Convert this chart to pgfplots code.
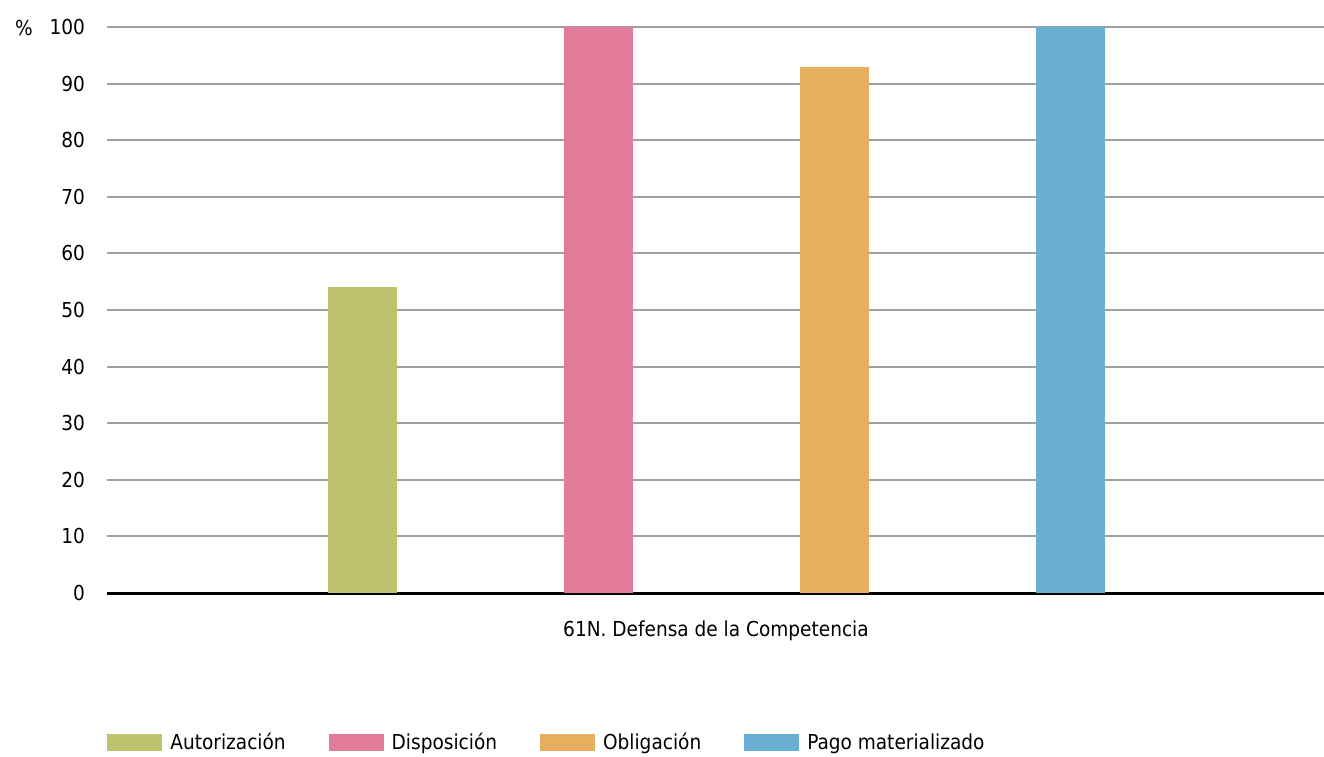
\documentclass[border=0pt]{standalone}
\usepackage{fontspec}
\setmainfont{DejaVu Sans Condensed}
\usepackage{pgfplots}
\pgfplotsset{compat=1.18}
\definecolor{cgreen}{RGB}{190,194,110}
\definecolor{cpink}{RGB}{226,123,154}
\definecolor{corange}{RGB}{232,174,96}
\definecolor{cblue}{RGB}{104,175,209}
\definecolor{cgrid}{RGB}{160,160,160}
\begin{document}
\begin{tikzpicture}
\begin{axis}[
  at={(0,0)}, anchor=south west,
  scale only axis,
  width=608.5pt, height=283pt,
  xmin=107, xmax=1324,
  ymin=0, ymax=100,
  ytick={0,10,...,100},
  xtick={716},
  xticklabels={61N. Defensa de la Competencia},
  xtick style={draw=none},
  ytick style={draw=none},
  axis x line*=bottom,
  axis y line*=left,
  y axis line style={draw=none},
  x axis line style={black, line width=1.5pt, -},
  ymajorgrids,
  grid style={cgrid, line width=1pt},
  tick label style={font=\fontsize{10.3}{12}\selectfont},
  /pgf/number format/assume math mode=true,
  yticklabel style={xshift=-7.5pt},
  xticklabel style={yshift=-6pt},
  ybar, bar width=69, bar shift=0pt,
  every axis plot/.append style={draw=none},
  legend style={at={(0,-0.265)}, anchor=west, draw=none, legend columns=-1,
    inner xsep=0pt,
    font=\fontsize{10.3}{12}\selectfont,
    /tikz/every even column/.append style={column sep=19.5pt}},
  legend image code/.code={\fill[#1] (0pt,-4.25pt) rectangle (27.5pt,4.25pt); \path (29.5pt,0pt);},
  clip=false,
]
\addplot[fill=cgreen] coordinates {(362.5,54)};
\addplot[fill=cpink] coordinates {(598.5,100)};
\addplot[fill=corange] coordinates {(834.5,93)};
\addplot[fill=cblue] coordinates {(1070.5,100)};
\legend{Autorización,Disposición,Obligación,Pago materializado}
\node[anchor=base west, font=\fontsize{10.3}{12}\selectfont] at ([xshift=-49.5pt,yshift=-4pt]axis description cs:0,1) {\%};
\end{axis}
\pgfresetboundingbox
\path[use as bounding box] (-53.5pt,-81.5pt) rectangle (608.5pt,296.5pt);
\end{tikzpicture}
\end{document}
